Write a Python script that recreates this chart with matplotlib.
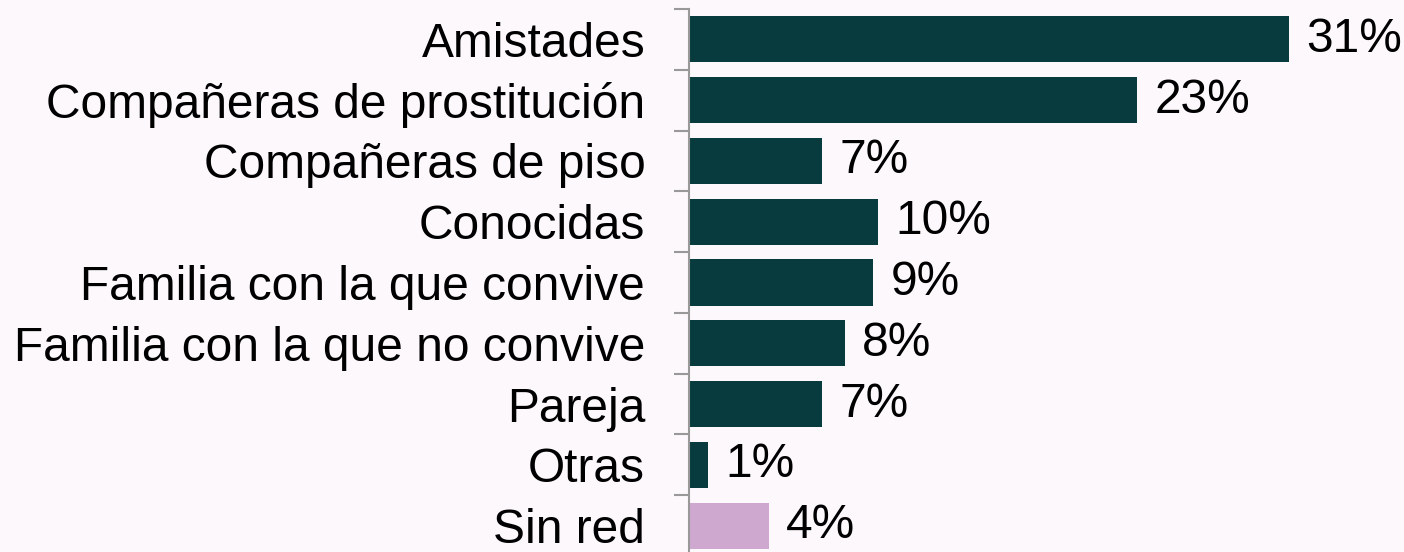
import matplotlib.pyplot as plt

# === データ ===
categories = [
    "Amistades",
    "Compañeras de prostitución",
    "Compañeras de piso",
    "Conocidas",
    "Familia con la que convive",
    "Familia con la que no convive",
    "Pareja",
    "Otras",
    "Sin red",
]
values = [31.0, 23.15, 6.87, 9.74, 9.5, 8.05, 6.87, 0.97, 4.13]
value_labels = ["31%", "23%", "7%", "10%", "9%", "8%", "7%", "1%", "4%"]

# === スタイル ===
bg_color = "#FCF8FC"
bar_color = "#083B3D"
sinred_color = "#CFA8D0"
axis_color = "#999999"
font_size = 34.5

plt.rcParams['font.family'] = ['Liberation Sans', 'DejaVu Sans']

fig = plt.figure(figsize=(14.04, 5.52), dpi=100, facecolor=bg_color)
ax = fig.add_axes([689 / 1404, 1 - 556 / 552, 697 / 1404, 547 / 552])
ax.set_facecolor(bg_color)

colors = [bar_color] * (len(categories) - 1) + [sinred_color]
ypos = list(range(len(categories)))
ax.barh(ypos, values, height=0.76, color=colors, edgecolor='none')

for y, v, lab in zip(ypos, values, value_labels):
    ax.annotate(lab, xy=(v, y), xytext=(12.5, 0), textcoords='offset points',
                ha='left', va='center', fontsize=font_size, color='black')

ax.set_xlim(0, 36)
ax.set_ylim(len(categories) - 0.5, -0.5)

ax.set_yticks(ypos)
ax.set_yticklabels(categories, fontsize=font_size)
ax.set_yticks([i - 0.5 for i in range(len(categories) + 1)], minor=True)
ax.tick_params(axis='y', which='major', length=0, pad=31.5)
ax.tick_params(axis='y', which='minor', length=10.8, width=1.5, color=axis_color)
ax.set_xticks([])

for side in ['top', 'right', 'bottom']:
    ax.spines[side].set_visible(False)
ax.spines['left'].set_color(axis_color)
ax.spines['left'].set_linewidth(1.5)

plt.savefig("out.png", dpi=100, facecolor=bg_color)
plt.close()
